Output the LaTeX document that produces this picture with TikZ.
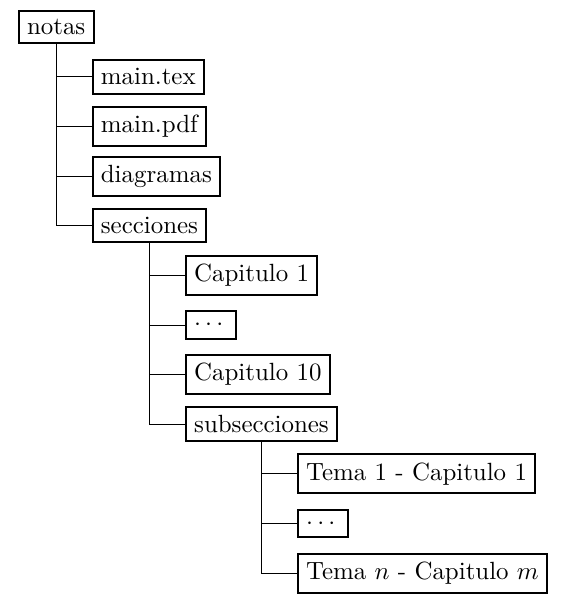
\documentclass[tikz,border=0pt]{standalone}
\usepackage{tikz}
\usepackage{amsmath}

\tikzset{
    folder/.style={draw=black, thick, anchor=west},
    branch/.style={draw=black, thin}
}

\begin{document}
\begin{tikzpicture}
    % Fixed frame of the picture
    \useasboundingbox (0,0) rectangle (8.08,-8.62);
    
    % Root folder
    \node[folder] (notas) at (0.25,-0.385) {notas};
    
    % First level
    \node[folder] (maintex) at ([shift={(0.5,-0.7)}]notas.center) {main.tex};
    \node[folder] (mainpdf) at ([shift={(0.5,-1.4)}]notas.center) {main.pdf};
    \node[folder] (diagramas) at ([shift={(0.5,-2.1)}]notas.center) {diagramas};
    \node[folder] (secciones) at ([shift={(0.5,-2.8)}]notas.center) {secciones};
    
    % Second level - chapters
    \node[folder] (cap1) at ([shift={(0.5,-0.7)}]secciones.center) {Capitulo 1};
    \node[folder] (capdots) at ([shift={(0.5,-1.4)}]secciones.center) {$\cdots$};
    \node[folder] (cap10) at ([shift={(0.5,-2.1)}]secciones.center) {Capitulo 10};
    \node[folder] (subsecciones) at ([shift={(0.5,-2.8)}]secciones.center) {subsecciones};
    
    % Third level - topics
    \node[folder] (tema1) at ([shift={(0.5,-0.7)}]subsecciones.center) {Tema 1 - Capitulo 1};
    \node[folder] (temadots) at ([shift={(0.5,-1.4)}]subsecciones.center) {$\cdots$};
    \node[folder] (teman) at ([shift={(0.5,-2.1)}]subsecciones.center) {Tema $n$ - Capitulo $m$};
    
    % Branches
    \draw[branch] (notas.south) |- (maintex.west);
    \draw[branch] (notas.south) |- (mainpdf.west);
    \draw[branch] (notas.south) |- (diagramas.west);
    \draw[branch] (notas.south) |- (secciones.west);
    
    \draw[branch] (secciones.south) |- (cap1.west);
    \draw[branch] (secciones.south) |- (capdots.west);
    \draw[branch] (secciones.south) |- (cap10.west);
    \draw[branch] (secciones.south) |- (subsecciones.west);
    
    \draw[branch] (subsecciones.south) |- (tema1.west);
    \draw[branch] (subsecciones.south) |- (temadots.west);
    \draw[branch] (subsecciones.south) |- (teman.west);
\end{tikzpicture}
\end{document}
